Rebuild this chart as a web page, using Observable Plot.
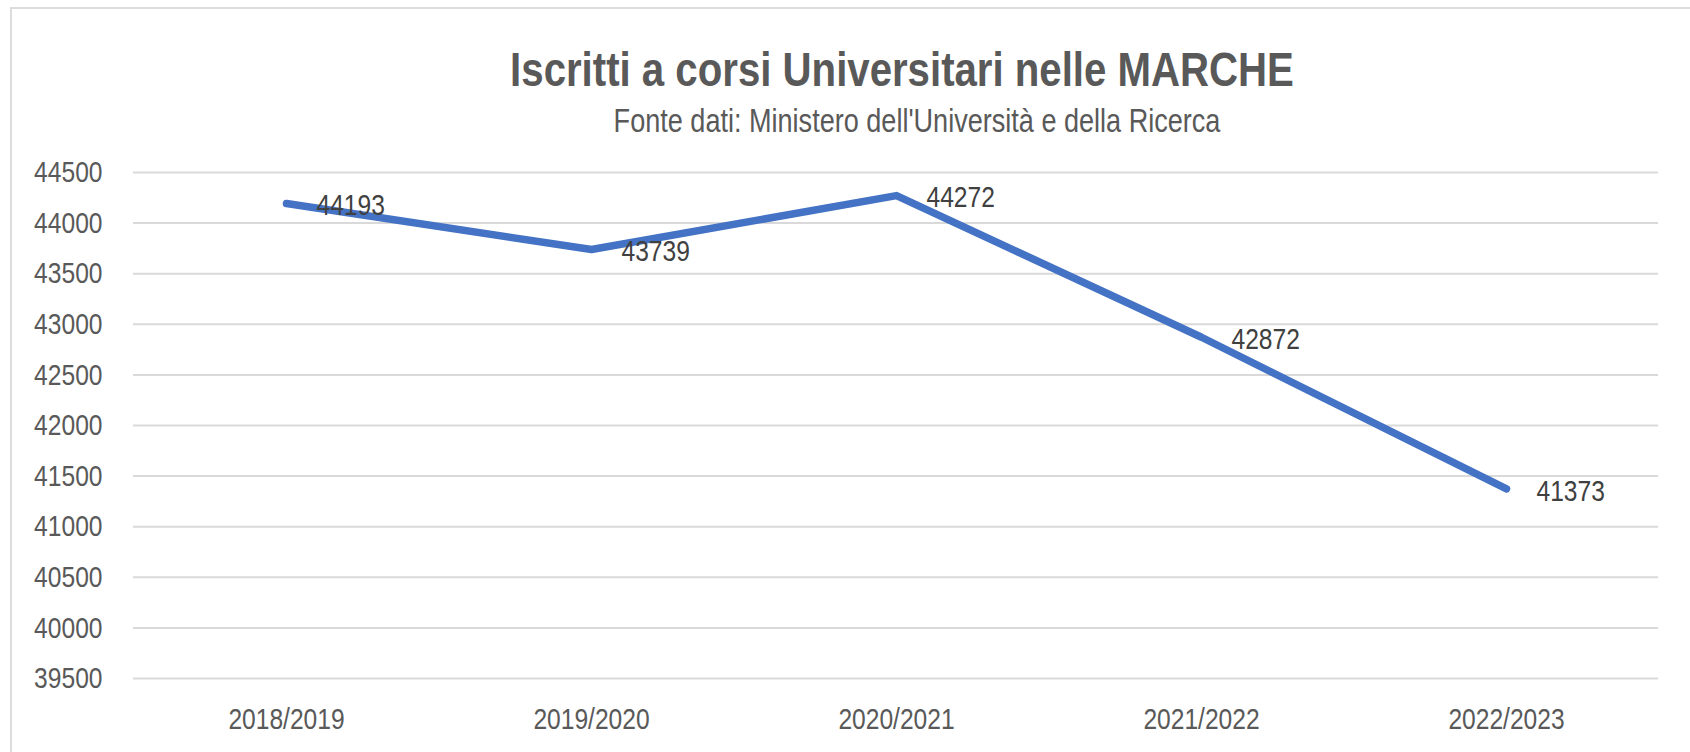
<!DOCTYPE html>
<html>
<head>
<meta charset="utf-8">
<script src="https://cdn.jsdelivr.net/npm/d3@7"></script>
<script src="https://cdn.jsdelivr.net/npm/@observablehq/plot@0.6"></script>
<style>
  html, body { margin: 0; padding: 0; background: #fff; }
  #wrap { position: relative; width: 1690px; height: 752px; overflow: hidden; background: #fff; }
  #frame { position: absolute; left: 10px; top: 7px; width: 1700px; height: 800px;
           border-left: 2px solid #dcdcdc; border-top: 2px solid #dcdcdc; box-sizing: border-box; }
  #head { position: relative; height: 150px; }
  .t { position: absolute; white-space: nowrap; color: #595959; line-height: 1; transform-origin: 50% 50%; }
  #chart { position: relative; }
</style>
</head>
<body>
<div id="wrap">
  <div id="frame"></div>
  <div id="head">
    <div id="title" class="t"></div>
    <div id="sub" class="t"></div>
  </div>
  <div id="chart"></div>
</div>
<script>
// ---- data ----
const years = ["2018/2019", "2019/2020", "2020/2021", "2021/2022", "2022/2023"];
const iscritti = [44193, 43739, 44272, 42872, 41373];
const yTicks = [39500, 40000, 40500, 41000, 41500, 42000, 42500, 43000, 43500, 44000, 44500];
const titleText = "Iscritti a corsi Universitari nelle MARCHE";
const subtitleText = "Fonte dati: Ministero dell'Università e della Ricerca";

const data = years.map((anno, i) => ({anno, valore: iscritti[i]}));

// ---- font detection (narrow face if available, else scaled regular) ----
const ctx = document.createElement("canvas").getContext("2d");
ctx.font = "30px 'Liberation Sans Narrow'";
const wN = ctx.measureText("2018/2019 Ministero").width;
ctx.font = "30px 'Liberation Sans'";
const wR = ctx.measureText("2018/2019 Ministero").width;
const hasNarrow = wN / wR < 0.9;
const fam = hasNarrow ? "'Liberation Sans Narrow', 'Arial Narrow', sans-serif" : "'Liberation Sans', Arial, sans-serif";
const k = hasNarrow ? 1 : 0.82;

// ---- title / subtitle ----
const title = document.getElementById("title");
title.textContent = titleText;
Object.assign(title.style, {fontFamily: fam, fontWeight: "bold", fontSize: "49px",
  left: "902px", top: "45px", transform: `translateX(-50%) scaleX(${k})`});
const sub = document.getElementById("sub");
sub.textContent = subtitleText;
Object.assign(sub.style, {fontFamily: fam, fontSize: "33px",
  left: "917px", top: "104px", transform: `translateX(-50%) scaleX(${k})`});

// ---- chart ----
const chart = Plot.plot({
  width: 1690,
  height: 602,
  marginLeft: 133,
  marginRight: 32,
  marginTop: 22,
  marginBottom: 74,
  style: {fontFamily: fam, fontSize: "30px", color: "#595959", background: "transparent", overflow: "visible"},
  x: {type: "point", domain: years, padding: 0.5, label: null, tickSize: 0, tickPadding: 29},
  y: {domain: [39500, 44500], ticks: yTicks, tickFormat: d => String(d), label: null, tickSize: 0, tickPadding: 31},
  marks: [
    Plot.gridY(yTicks, {stroke: "#d9d9d9", strokeOpacity: 1, strokeWidth: 2}),
    Plot.lineY(data, {x: "anno", y: "valore", stroke: "#4472C4", strokeWidth: 7.5,
      strokeLinecap: "round", strokeLinejoin: "round"}),
    Plot.text(data, {x: "anno", y: "valore", text: d => String(d.valore), textAnchor: "start",
      dx: 30, dy: 2, fill: "#404040", fontSize: 30})
  ]
});
document.getElementById("chart").appendChild(chart);

if (!hasNarrow) {
  chart.querySelectorAll("text").forEach(el => {
    const tr = el.getAttribute("transform") || "";
    el.setAttribute("transform", tr + ` scale(${k},1)`);
  });
}
</script>
</body>
</html>
